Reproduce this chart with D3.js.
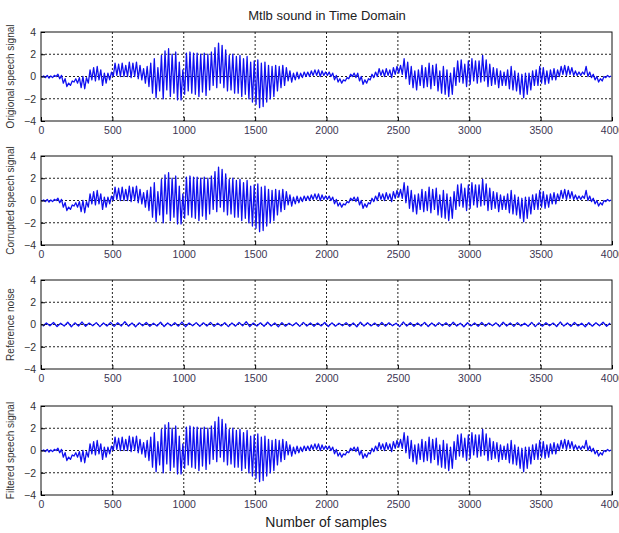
<!DOCTYPE html>
<html>
<head>
<meta charset="utf-8">
<script src="https://cdn.jsdelivr.net/npm/d3@7"></script>
<style>
  body { margin: 0; background: #fff; }
  text { font-family: Arial, "Liberation Sans", sans-serif; }
</style>
</head>
<body>
<script>
// min / max of the trace in each 25-sample bin
const binSize = 25;
const speechLo = [
  -0.05, -0.1, -0.15, -0.1, 0, -0.2, -0.6, -0.9, -0.8, -0.5,
  -0.6, -1.0, -1.1, -0.6, -0.3, -0.4, -0.3, -0.8, -0.6, -0.3,
  0, 0.1, 0, 0, 0, -0.1, 0, -0.2, -0.3, -0.6,
  -0.9, -1.5, -1.9, -1.3, -2.0, -1.2, -1.8, -1.5, -2.1, -2.1,
  -1.6, -1.3, -1.5, -1.6, -1.8, -1.4, -1.7, -1.2, -0.8, -1.0,
  -0.6, -1.0, -1.3, -1.2, -1.5, -1.5, -1.8, -1.6, -2.0, -2.3,
  -2.5, -2.8, -2.7, -2.3, -2.0, -1.8, -1.3, -1.0, -0.8, -0.4,
  -0.5, -0.3, -0.2, -0.1, 0, 0, 0.1, 0.1, 0, 0.1,
  0.1, 0, -0.3, -0.5, -0.6, -0.4, -0.2, 0, -0.1, -0.4,
  -0.7, -0.6, -0.3, -0.1, 0, 0.1, 0, 0.1, -0.1, 0.2,
  0.3, 0.2, -0.2, -0.7, -1.0, -1.2, -0.8, -1.0, -0.9, -1.1,
  -0.8, -1.3, -1.5, -1.6, -1.8, -1.6, -0.8, -0.5, -0.6, -0.9,
  -0.7, -0.4, -0.6, -0.5, -0.4, -0.9, -0.8, -0.7, -1.0, -0.8,
  -0.8, -1.1, -1.2, -1.3, -1.6, -1.9, -1.6, -1.2, -0.8, -0.8,
  -0.6, -0.7, -0.6, -0.3, -0.3, 0, 0.2, 0.1, 0.2, 0.1,
  0.1, 0.1, 0.2, 0, -0.1, -0.3, -0.5, -0.4, -0.1, -0.05
];
const speechHi = [
  0.05, 0.1, 0.05, 0.1, 0.2, 0.1, -0.2, -0.6, -0.4, -0.2,
  -0.1, 0, -0.1, 0.6, 0.8, 0.9, 0.6, 0.3, 0.3, 0.4,
  1.2, 1.1, 1.2, 1.0, 1.3, 1.2, 1.3, 1.0, 0.7, 0.9,
  1.2, 1.6, 0.8, 1.9, 2.3, 2.5, 2.0, 2.2, 1.3, 0.6,
  2.1, 2.2, 2.1, 2.1, 2.0, 2.1, 2.0, 2.2, 2.6, 3.0,
  2.8, 2.4, 1.9, 2.0, 1.8, 1.9, 1.6, 1.8, 1.3, 1.4,
  1.5, 1.2, 1.3, 1.0, 0.9, 1.0, 0.9, 1.0, 0.8, 0.5,
  0.3, 0.4, 0.3, 0.4, 0.4, 0.5, 0.6, 0.6, 0.5, 0.4,
  0.4, 0.3, 0.1, -0.2, -0.3, -0.1, 0.2, 0.3, 0.3, 0,
  -0.3, -0.2, 0.2, 0.4, 0.7, 0.6, 0.7, 0.6, 0.8, 0.9,
  1.0, 1.6, 1.3, 0.9, 0.5, 0.6, 1.0, 0.8, 1.2, 1.0,
  1.1, 0.5, 0.9, 0.6, 0.3, 0.8, 1.4, 1.5, 1.1, 1.4,
  1.6, 1.4, 1.4, 1.9, 1.5, 1.1, 0.8, 0.7, 0.5, 0.4,
  0.6, 0.9, 0.5, 0.3, 0.2, 0.3, 0.3, 0.5, 0.6, 0.9,
  0.8, 0.5, 0.6, 0.7, 0.6, 0.9, 1.0, 0.9, 0.8, 0.5,
  0.4, 0.4, 0.9, 0.4, 0.2, 0, -0.2, 0, 0.1, 0.05
];
// reference noise, 50-sample bins
const noiseBin = 50;
const noiseLo = [
  -0.15, -0.12, -0.18, -0.14, -0.2, -0.13, -0.16, -0.12, -0.19, -0.14,
  -0.17, -0.13, -0.15, -0.2, -0.12, -0.16, -0.14, -0.18, -0.13, -0.15,
  -0.2, -0.12, -0.16, -0.14, -0.17, -0.13, -0.19, -0.15, -0.12, -0.18,
  -0.14, -0.16, -0.13, -0.2, -0.15, -0.12, -0.17, -0.14, -0.16, -0.13,
  -0.18, -0.15, -0.12, -0.16, -0.2, -0.14, -0.13, -0.17, -0.15, -0.12,
  -0.19, -0.14, -0.16, -0.13, -0.18, -0.15, -0.12, -0.17, -0.14, -0.2,
  -0.13, -0.16, -0.15, -0.12, -0.18, -0.14, -0.17, -0.13, -0.16, -0.19,
  -0.15, -0.12, -0.18, -0.14, -0.16, -0.13, -0.2, -0.15, -0.12, -0.16
];
const noiseHi = [
  0.14, 0.18, 0.12, 0.2, 0.15, 0.22, 0.13, 0.17, 0.14, 0.19,
  0.16, 0.25, 0.13, 0.15, 0.18, 0.12, 0.2, 0.14, 0.16, 0.22,
  0.13, 0.17, 0.15, 0.19, 0.12, 0.16, 0.14, 0.18, 0.25, 0.13,
  0.15, 0.2, 0.14, 0.17, 0.12, 0.16, 0.19, 0.14, 0.13, 0.18,
  0.15, 0.12, 0.17, 0.14, 0.2, 0.16, 0.13, 0.18, 0.15, 0.12,
  0.22, 0.16, 0.14, 0.19, 0.13, 0.17, 0.15, 0.2, 0.12, 0.16,
  0.14, 0.18, 0.13, 0.15, 0.2, 0.14, 0.17, 0.12, 0.19, 0.15,
  0.16, 0.13, 0.22, 0.14, 0.18, 0.12, 0.16, 0.15, 0.2, 0.13
];

const xTicks = [0, 500, 1000, 1500, 2000, 2500, 3000, 3500, 4000];
const yTicks = [-4, -2, 0, 2, 4];
const panelLabels = ["Origional speech signal", "Corrupted speech signal", "Reference noise", "Filtered speech signal"];
const panelTops = [32, 156, 280, 406];

// lo/hi pairs -> zigzag points
function zigzag(lo, hi, size) {
  const pts = [];
  lo.forEach((v, i) => {
    pts.push([i * size + size * 0.25, v]);
    pts.push([i * size + size * 0.75, hi[i]]);
  });
  return pts;
}
const speech = zigzag(speechLo, speechHi, binSize);
const noise = zigzag(noiseLo, noiseHi, noiseBin);
const panelData = [speech, speech, noise, speech];

const width = 619, height = 533;
const left = 41, right = 612, panelH = 89;

const svg = d3.select("body").append("svg")
    .attr("width", width)
    .attr("height", height);

const xScale = d3.scaleLinear().domain([0, 4000]).range([left, right]);

svg.append("text")
    .attr("x", 327)
    .attr("y", 20)
    .attr("text-anchor", "middle")
    .style("font-size", "13px")
    .attr("fill", "#222")
    .text("Mtlb sound in Time Domain");

panelTops.forEach((top, i) => {
    const yScale = d3.scaleLinear().domain([-4, 4]).range([top + panelH, top]);
    const g = svg.append("g");

    // dotted grid
    g.selectAll(".gx").data(xTicks.slice(1, -1)).enter().append("line")
        .attr("x1", d => xScale(d)).attr("x2", d => xScale(d))
        .attr("y1", top).attr("y2", top + panelH)
        .attr("stroke", "#222").attr("stroke-dasharray", "2,2");
    g.selectAll(".gy").data(yTicks.slice(1, -1)).enter().append("line")
        .attr("x1", left).attr("x2", right)
        .attr("y1", d => yScale(d)).attr("y2", d => yScale(d))
        .attr("stroke", "#222").attr("stroke-dasharray", "2,2");

    const line = d3.line().x(d => xScale(d[0])).y(d => yScale(d[1]));
    g.append("path")
        .datum(panelData[i])
        .attr("fill", "none")
        .attr("stroke", "#1010f0")
        .attr("stroke-width", 1.3)
        .attr("stroke-linejoin", "round")
        .attr("d", line);

    g.append("rect")
        .attr("x", left).attr("y", top)
        .attr("width", right - left).attr("height", panelH)
        .attr("fill", "none").attr("stroke", "#111").attr("stroke-width", 1);

    const xAxis = d3.axisBottom(xScale).tickValues(xTicks).tickFormat(d3.format("d"))
        .tickSize(-4).tickPadding(6);
    g.append("g")
        .attr("transform", `translate(0,${top + panelH})`)
        .call(xAxis)
        .call(a => a.select(".domain").remove())
        .call(a => a.selectAll("text").style("font-size", "10.5px").attr("fill", "#3c3552")
            .style("font-family", "Arial, 'Liberation Sans', sans-serif"));

    const yAxis = d3.axisLeft(yScale).tickValues(yTicks).tickSize(-4).tickPadding(5);
    g.append("g")
        .attr("transform", `translate(${left},0)`)
        .call(yAxis)
        .call(a => a.select(".domain").remove())
        .call(a => a.selectAll("text").style("font-size", "10.5px").attr("fill", "#333")
            .style("font-family", "Arial, 'Liberation Sans', sans-serif"));

    svg.append("text")
        .attr("transform", `translate(14,${top + panelH / 2}) rotate(-90)`)
        .attr("text-anchor", "middle")
        .style("font-size", "10px")
        .attr("fill", "#333")
        .text(panelLabels[i]);
});

svg.append("text")
    .attr("x", 326)
    .attr("y", 527)
    .attr("text-anchor", "middle")
    .style("font-size", "14px")
    .attr("fill", "#222")
    .text("Number of samples");
</script>
</body>
</html>
